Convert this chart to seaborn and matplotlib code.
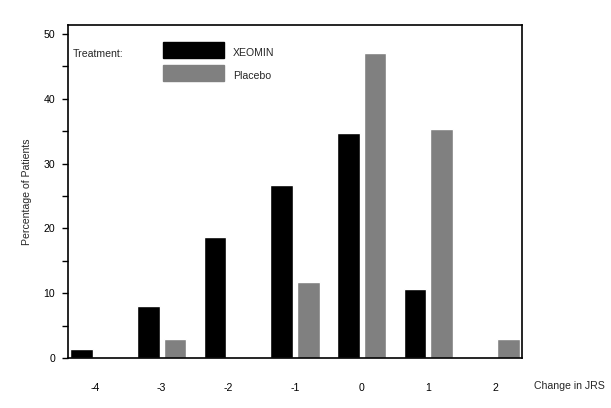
import matplotlib

matplotlib.use("Agg")

import matplotlib.pyplot as plt
import pandas as pd
import seaborn as sns
from matplotlib.patches import Rectangle
from matplotlib.ticker import MultipleLocator

CHANGES = ["-4", "-3", "-2", "-1", "0", "1", "2"]
XEOMIN = [1.4, 8.1, 18.6, 26.7, 34.7, 10.6, 0.0]
PLACEBO = [0.0, 2.9, 0.0, 11.7, 47.1, 35.3, 2.9]
GROUPS = ["XEOMIN", "Placebo"]
COLORS = {"XEOMIN": "#000000", "Placebo": "#808080"}

df = pd.DataFrame({
    "change": CHANGES * 2,
    "pct": XEOMIN + PLACEBO,
    "treatment": [GROUPS[0]] * len(CHANGES) + [GROUPS[1]] * len(CHANGES),
})

sns.set_style("white")
plt.rcParams["font.family"] = ["Liberation Sans", "DejaVu Sans"]
FS = 7.6

fig = plt.figure(figsize=(6.11, 4.08), dpi=100)
ax = fig.add_axes([0.1105, 0.1225, 0.7435, 0.8165])

sns.barplot(data=df, x="change", y="pct", hue="treatment", order=CHANGES,
            hue_order=GROUPS, palette=COLORS, width=0.8, gap=0.15,
            saturation=1, legend=False, ax=ax)

ax.set_xlim(-0.41, 6.40)
ax.set_ylim(0, 51.4)
ax.yaxis.set_major_locator(MultipleLocator(10))
ax.yaxis.set_minor_locator(MultipleLocator(5))
ax.tick_params(axis="y", which="both", direction="out", length=4, width=1,
               color="black", left=True, labelsize=FS, pad=5, colors="black")
ax.tick_params(axis="x", length=0, labelsize=FS, pad=18, colors="black")
ax.set_xlabel("")
ax.set_ylabel("Percentage of Patients", fontsize=FS, labelpad=8)
for s in ax.spines.values():
    s.set_visible(True)
    s.set_color("black")
    s.set_linewidth(1.2)

fig.text(534 / 611, 1 - 386 / 408, "Change in JRS", fontsize=FS, va="center", ha="left")

# legend drawn by hand, in figure pixels
W, H = 611, 408
fig.text(73 / W, 1 - 54 / H, "Treatment:", fontsize=FS, va="center", ha="left")
for i, g in enumerate(GROUPS):
    top = 42 + i * 23
    fig.patches.append(Rectangle((163 / W, 1 - (top + 16) / H), 61 / W, 16 / H,
                                 transform=fig.transFigure, color=COLORS[g]))
    fig.text(233 / W, 1 - (top + 11) / H, g, fontsize=FS, va="center", ha="left")

fig.savefig("out.png", dpi=100)
